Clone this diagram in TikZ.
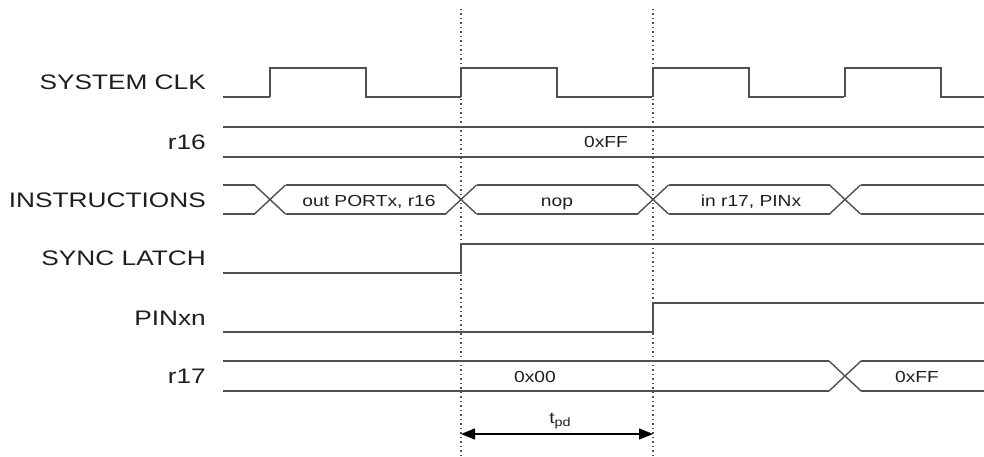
\documentclass[tikz,border=0pt]{standalone}
\usepackage{fontspec}
\setmainfont{Liberation Sans}[FakeStretch=1.2]
\newfontfamily\signamefont{Liberation Sans}[FakeStretch=1.25]
\usetikzlibrary{arrows.meta,positioning}
\definecolor{wavegray}{HTML}{505050}
\definecolor{txtgray}{HTML}{1E1E1E}

\begin{document}
\begin{tikzpicture}[
  x=1pt, y=-1pt,
  wave/.style={draw=wavegray, line width=1.4pt, line join=miter},
  marker/.style={draw=wavegray, line width=1.3pt, dash pattern=on 1.5pt off 3pt},
  siglabel/.style={anchor=base east, inner sep=0pt, text=txtgray, font=\signamefont\fontsize{21}{24}\selectfont},
  buslabel/.style={anchor=base, inner sep=0pt, text=txtgray, font=\fontsize{16}{18}\selectfont},
  timing/.style={draw=black, line width=1.3pt, {Triangle[length=14pt,width=11pt]}-{Triangle[length=14pt,width=11pt]}}
]
\useasboundingbox (0,0) rectangle (984,457);

% signal names
\node[siglabel] (clk)   at (206,90)  {SYSTEM CLK};
\node[siglabel] (r16)   at (206,150) {r16};
\node[siglabel] (instr) at (206,207) {INSTRUCTIONS};
\node[siglabel] (sync)  at (206,265) {SYNC LATCH};
\node[siglabel] (pin)   at (206,325) {PINxn};
\node[siglabel] (r17)   at (206,383) {r17};

% marker lines
\coordinate (m1top) at (461,9);
\coordinate (m1bot) at (461,457);
\coordinate (m2top) at (653,9);
\coordinate (m2bot) at (653,457);
\draw[marker] (m1top) -- (m1bot);
\draw[marker] (m2top) -- (m2bot);

% clock
\draw[wave] (223,97) -- (270,97);
\foreach \x in {270,461,653,845}
  \draw[wave] (\x,97) -- (\x,68) -- (\x+96,68) -- (\x+96,97) -- (\x+191,97);

% r16
\draw[wave] (223,127) -- (984,127) (223,157) -- (984,157);
\node[buslabel] (v16) at (606,148) {0xFF};

% instructions
\foreach \a/\b in {223/255, 286/446, 477/638, 669/830, 861/984}
  \draw[wave] (\a,185) -- (\b,185) (\a,214) -- (\b,214);
\foreach \c in {270,461,653,845}
  \draw[wave] (\c-15.5,185) -- (\c+15.5,214) (\c-15.5,214) -- (\c+15.5,185);
\node[buslabel] (i1) at (369,206) {out PORTx, r16};
\node[buslabel] (i2) at (557,206) {nop};
\node[buslabel] (i3) at (751,206) {in r17, PINx};

% sync latch
\draw[wave] (223,273) -- (461,273) -- (461,244) -- (984,244);

% pin
\draw[wave] (223,332) -- (653,332) -- (653,303) -- (984,303);

% r17
\draw[wave] (223,361) -- (829,361) (223,391) -- (829,391);
\draw[wave] (861,361) -- (984,361) (861,391) -- (984,391);
\draw[wave] (829,361) -- (861,391) (829,391) -- (861,361);
\node[buslabel] (v17a) at (535,382) {0x00};
\node[buslabel] (v17b) at (917,382) {0xFF};

% propagation delay
\coordinate (d1) at (461,434);
\coordinate (d2) at (653,434);
\draw[timing] (d1) -- (d2);
\node[buslabel] (tpd) at (560,423) {t\raisebox{-0.45ex}{\fontsize{12}{12}\selectfont pd}};
\end{tikzpicture}
\end{document}
